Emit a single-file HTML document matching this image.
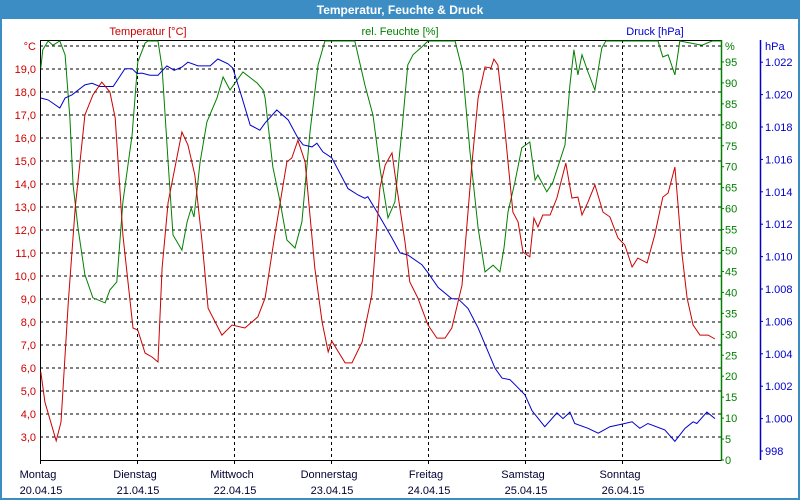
<!DOCTYPE html>
<html><head><meta charset="utf-8"><style>
body{margin:0;background:#fff;}
#wrap{position:relative;width:800px;height:500px;overflow:hidden;background:#fff;font-family:"Liberation Sans",sans-serif;}
svg text{font-family:"Liberation Sans",sans-serif;font-size:11px;}
</style></head><body>
<div id="wrap">
<svg id="chart" width="800" height="500">
<rect x="0" y="0" width="800" height="500" fill="#3c8dc4"/>
<rect x="2" y="19" width="796" height="479" fill="#fff"/>
<text x="400" y="14" text-anchor="middle" fill="#fff" font-weight="bold" style="font-size:12px">Temperatur, Feuchte &amp; Druck</text>
<text x="148" y="35" text-anchor="middle" fill="#cc0000">Temperatur [°C]</text>
<text x="400" y="35" text-anchor="middle" fill="#008000">rel. Feuchte [%]</text>
<text x="655" y="35" text-anchor="middle" fill="#0000cc">Druck [hPa]</text>
<g id="grid"></g><g id="axes"></g><g id="series"></g>
</svg>
</div>
<script>
const tempHours=[0.2,1.2,4.0,5.2,7.0,8.7,11.1,13.1,15.3,17.3,18.6,20.5,23.0,24.2,26.0,27.7,29.2,30.2,31.7,35.1,36.6,38.3,40.1,41.6,45.0,47.5,50.7,53.9,55.7,58.1,61.1,62.3,63.8,65.6,68.0,69.8,71.3,72.2,75.5,77.2,79.7,82.1,84.1,85.4,87.1,88.3,90.3,91.5,93.5,96.0,98.2,100.2,101.9,104.4,106.9,108.4,110.1,111.6,112.3,113.3,114.5,115.8,117.0,118.3,119.5,121.2,122.2,123.2,124.4,126.2,127.9,130.1,131.6,133.1,134.1,135.6,137.3,139.3,141.0,143.0,144.7,146.5,147.9,150.2,152.1,154.1,155.4,157.1,157.8,158.8,160.1,161.6,163.3,165.3,167.0];
const tempValues=[5.83,4.52,2.83,3.65,8.87,12.96,17.0,17.87,18.43,18.0,16.87,11.78,7.74,7.65,6.65,6.48,6.26,10.35,13.2,16.26,15.7,14.4,11.48,8.6,7.43,7.87,7.74,8.22,9.04,11.78,14.96,15.13,15.9,14.96,10.35,8.0,6.7,7.17,6.22,6.22,7.13,9.17,13.83,14.83,15.35,13.83,11.48,9.74,9.04,7.87,7.3,7.3,7.74,9.6,14.96,17.74,19.09,19.04,19.43,19.17,17.3,14.96,12.78,12.35,11.04,10.83,12.52,12.13,12.65,12.65,13.39,14.91,13.39,13.43,12.65,13.22,13.96,12.78,12.57,11.65,11.35,10.39,10.78,10.57,11.78,13.43,13.61,14.74,13.22,11.04,9.04,7.87,7.43,7.43,7.26];
const humHours=[0.2,0.7,2.0,3.2,4.9,6.2,7.4,8.2,9.4,11.1,13.1,16.1,17.3,19.0,20.5,22.8,24.2,26.0,26.7,29.2,30.2,31.7,32.9,35.1,36.4,37.4,38.1,39.6,41.3,43.8,45.3,47.0,50.2,53.7,55.2,55.7,57.6,59.4,61.1,63.1,64.8,66.8,68.8,70.5,77.9,80.4,82.4,84.1,86.1,87.8,89.6,91.0,92.3,94.5,96.0,102.7,104.6,106.4,108.4,110.1,112.1,113.8,114.8,115.8,117.5,119.2,121.2,122.5,123.2,125.4,126.9,129.9,131.1,132.1,133.1,134.1,135.6,137.3,139.0,140.0,152.9,154.1,155.4,157.1,158.3,163.8,166.3,168.5];
const humValues=[93.6,97.9,100,99,100,96.7,81.6,65.6,55.4,44.2,38.7,37.5,40.6,42.5,61.6,77.6,95,99.5,100,100,93.6,71.1,53.7,50.1,56.8,60.1,58,71.1,80.7,86.4,91.4,88.3,92.6,90,88.3,86.4,70,61.6,52.5,50.6,56.8,78.3,94.3,100,100,89.5,82.3,69.7,57.8,61.6,79.2,94.3,96.7,98.6,100,100,92.6,73.5,55.4,44.9,46.5,44.9,50.6,59.2,66.3,74.5,75.9,66.8,68,64,66.3,75.2,89.5,97.9,91.9,96.7,92.6,88.3,98.3,100,100,96.2,96.7,91.9,100,99,100,100];
const presHours=[0.2,2.0,4.9,6.2,7.9,11.1,12.9,14.8,18.1,21.0,22.8,24.0,25.2,27.2,29.2,31.4,33.2,35.1,36.6,39.1,42.1,44.0,46.5,47.7,50.0,52.0,54.4,55.7,58.6,61.4,63.8,65.1,67.3,68.5,70.0,72.2,76.2,78.7,80.4,81.1,83.4,87.1,89.1,91.0,94.5,96.0,98.5,101.9,103.4,105.9,108.4,112.6,114.3,116.3,118.3,120.0,121.7,124.9,127.9,129.4,131.1,132.3,135.6,138.1,141.0,144.0,146.5,148.4,150.4,154.6,157.1,159.6,161.6,162.5,165.0,167.0];
const presValues=[1019.79,1019.67,1019.17,1019.79,1019.98,1020.6,1020.7,1020.5,1020.5,1021.6,1021.6,1021.3,1021.33,1021.2,1021.2,1021.77,1021.5,1021.7,1022.0,1021.77,1021.77,1022.2,1021.9,1021.64,1019.79,1018.12,1017.8,1018.25,1019.05,1018.43,1017.32,1016.9,1016.77,1017.0,1016.46,1016.1,1014.2,1013.8,1013.6,1013.7,1012.75,1011.15,1010.22,1010.1,1009.5,1009.0,1008.1,1007.4,1007.4,1006.8,1005.6,1003.1,1002.5,1002.4,1001.9,1001.46,1000.5,999.5,1000.35,1000.0,1000.4,999.7,999.4,999.1,999.5,999.66,999.8,999.4,999.7,999.3,998.6,999.4,999.8,999.7,1000.4,1000.0];
const dayNames=["Montag","Dienstag","Mittwoch","Donnerstag","Freitag","Samstag","Sonntag"];
const dayDates=["20.04.15","21.04.15","22.04.15","23.04.15","24.04.15","25.04.15","26.04.15"];
const tempTicks=[3,4,5,6,7,8,9,10,11,12,13,14,15,16,17,18,19];
const humTicks=[0,5,10,15,20,25,30,35,40,45,50,55,60,65,70,75,80,85,90,95];
const presTicks=[998,1000,1002,1004,1006,1008,1010,1012,1014,1016,1018,1020,1022];

const X0=40,X1=721,YB=460;
const xH=h=>X0+h*97/24;
const yT=t=>46+(20-t)*23;
const yH=h=>460-h*4.19;
const yP=p=>451-(p-998)*16.2;
const NS="http://www.w3.org/2000/svg";
function mk(tag,attrs,parent,txt){const e=document.createElementNS(NS,tag);for(const k in attrs)e.setAttribute(k,attrs[k]);if(txt!==undefined)e.textContent=txt;parent.appendChild(e);return e;}
const grid=document.getElementById('grid'),axes=document.getElementById('axes'),series=document.getElementById('series');
for(let t=3;t<=20;t++){
  const l=mk('line',{x1:X0,x2:X1,y1:yT(t),y2:yT(t),stroke:'#000','stroke-dasharray':'3,3','stroke-width':1},grid);
  
  
}
for(let d=1;d<7;d++){
  const l=mk('line',{x1:X0+d*97+0.5,x2:X0+d*97+0.5,y1:40,y2:YB,stroke:'#000','stroke-dasharray':'3,3','stroke-width':1},grid);
  
  
}
let a=mk('line',{x1:X0+0.5,x2:X0+0.5,y1:40,y2:YB+4,stroke:'#000'},axes);


a=mk('line',{x1:X0,x2:X1,y1:YB+0.5,y2:YB+0.5,stroke:'#000'},axes);


a=mk('line',{x1:X0,x2:X1,y1:40.5,y2:40.5,stroke:'#000'},axes);


a=mk('line',{x1:X1+0.5,x2:X1+0.5,y1:40,y2:YB+1,stroke:'#008000','stroke-width':1.5},axes);


a=mk('line',{x1:760.5,x2:760.5,y1:40,y2:YB,stroke:'#0000cc','stroke-width':1.5},axes);


tempTicks.forEach(t=>{
  const e=mk('text',{x:36,y:yT(t)+4,'text-anchor':'end',fill:'#cc0000'},axes,t.toFixed(1).replace('.',','));
  
  
});
let u=mk('text',{x:36,y:yT(20)+4,'text-anchor':'end',fill:'#cc0000'},axes,'°C');


humTicks.forEach(h=>{
  const tk=mk('line',{x1:X1,x2:X1+3,y1:yH(h),y2:yH(h),stroke:'#008000'},axes);
  
  
  const e=mk('text',{x:725,y:yH(h)+4,fill:'#008000'},axes,String(h));
  
  
});
u=mk('text',{x:725,y:50,fill:'#008000'},axes,'%');


presTicks.forEach(p=>{
  const tk=mk('line',{x1:760,x2:763,y1:yP(p),y2:yP(p),stroke:'#0000cc'},axes);
  
  
  const lbl=p>=1000?('1.'+String(p-1000).padStart(3,'0')):String(p);
  const e=mk('text',{x:765,y:yP(p)+4,fill:'#0000cc'},axes,lbl);
  
  
});
u=mk('text',{x:765,y:50,fill:'#0000cc'},axes,'hPa');


dayNames.forEach((n,i)=>{
  const cx=X0+i*97;
  const tk=mk('line',{x1:cx+0.5,x2:cx+0.5,y1:YB,y2:YB+4,stroke:'#000'},axes);
  
  
  const e=mk('text',{x:cx-2,y:478,'text-anchor':'middle',fill:'#000033'},axes,n);
  
  
  const d=mk('text',{x:cx+1,y:494,'text-anchor':'middle',fill:'#000033'},axes,dayDates[i]);
  
  
});
function line(hs,vs,yf,col,name){
  const pts=hs.map((h,i)=>xH(h).toFixed(1)+','+yf(vs[i]).toFixed(1)).join(' ');
  const p=mk('polyline',{points:pts,fill:'none',stroke:col,'stroke-width':1},series);
  
  
}
line(humHours,humValues,yH,'#008000','humidity-line');
line(presHours,presValues,yP,'#0000cc','pressure-line');
line(tempHours,tempValues,yT,'#cc0000','temperature-line');
</script>
</body></html>
